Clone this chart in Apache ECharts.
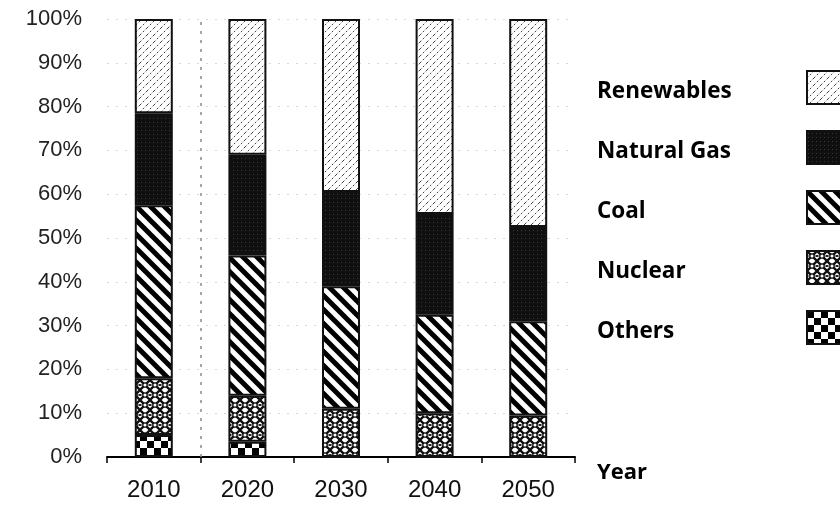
<!DOCTYPE html>
<html>
<head>
<meta charset="utf-8">
<script src="https://cdn.jsdelivr.net/npm/echarts@6/dist/echarts.min.js"></script>
<style>
  html, body { margin: 0; padding: 0; background: #fff; }
  #chart { width: 840px; height: 511px; }
</style>
</head>
<body>
<div id="chart"></div>
<script>
// Electricity generation mix by source, share of total (%)
const years = ['2010', '2020', '2030', '2040', '2050'];
const others = [5, 3.5, 0, 0, 0];
const nuclear = [13, 10.5, 11, 10, 9.5];
const coal = [39.5, 32, 28, 22.5, 21.5];
const naturalGas = [21, 23, 21.5, 23, 21.5];
const renewables = [21.5, 31, 39.5, 44.5, 47.5];
const yTicks = [0, 10, 20, 30, 40, 50, 60, 70, 80, 90, 100];
const legendOrder = ['Renewables', 'Natural Gas', 'Coal', 'Nuclear', 'Others'];
// dotted divider after the first (historical) year, in category units
const dividerAt = [1];

// Monochrome fill patterns, one per source
function tile(w, h, draw) {
  const c = document.createElement('canvas');
  c.width = w; c.height = h;
  const g = c.getContext('2d');
  g.fillStyle = '#fff';
  g.fillRect(0, 0, w, h);
  draw(g, w, h);
  return { image: c, repeat: 'repeat' };
}

const fillRenewables = tile(7, 7, (g, w, h) => {
  g.strokeStyle = '#444';
  g.lineWidth = 1;
  g.setLineDash([2, 2]);
  g.beginPath();
  g.moveTo(0, h); g.lineTo(w, 0);
  g.stroke();
});

const fillGas = tile(4, 4, (g) => {
  g.fillStyle = '#101010';
  g.fillRect(0, 0, 4, 4);
  g.fillStyle = '#383838';
  g.fillRect(1, 2, 1, 1);
});

const fillCoal = tile(14, 14, (g, w, h) => {
  g.strokeStyle = '#000';
  g.lineWidth = 5;
  g.beginPath();
  for (let k = -1; k <= 1; k++) {
    g.moveTo(k * w - 2, -2);
    g.lineTo(k * w + w + 2, h + 2);
  }
  g.stroke();
});

const fillNuclear = tile(10, 10, (g, w, h) => {
  g.strokeStyle = '#111';
  g.lineWidth = 2.3;
  g.beginPath();
  g.moveTo(0, 0); g.lineTo(w, h);
  g.moveTo(w, 0); g.lineTo(0, h);
  g.stroke();
  g.fillStyle = '#fff';
  g.beginPath();
  g.arc(w / 2, h / 2, 2.2, 0, Math.PI * 2);
  g.fill();
  g.lineWidth = 1.3;
  g.stroke();
  g.fillStyle = '#222';
  g.fillRect(0, h / 2 - 1, 1.5, 2);
  g.fillRect(w - 1.5, h / 2 - 1, 1.5, 2);
});

const fillOthers = tile(14, 14, (g) => {
  g.fillStyle = '#000';
  g.fillRect(0, 0, 7, 7);
  g.fillRect(7, 7, 7, 7);
});

const chart = echarts.init(document.getElementById('chart'), null, { renderer: 'canvas' });

function barSeries(name, data, fill) {
  return {
    name: name,
    type: 'bar',
    stack: 'mix',
    barWidth: 38,
    data: data,
    itemStyle: { color: fill, borderColor: '#111', borderWidth: 2 },
    emphasis: { disabled: true }
  };
}

chart.setOption({
  animation: false,
  backgroundColor: '#fff',
  grid: { left: 107, right: 265, top: 19, bottom: 54 },
  legend: {
    orient: 'vertical',
    left: 597,
    top: 70,
    align: 'right',
    itemWidth: 34,
    itemHeight: 33,
    itemGap: 25,
    padding: 0,
    selectedMode: false,
    data: legendOrder,
    icon: 'rect',
    formatter: (name) => '{t|' + name + '}',
    textStyle: {
      rich: {
        t: {
          width: 205,
          align: 'left',
          fontFamily: 'Open Sans',
          fontWeight: 'bold',
          fontSize: 22.5,
          color: '#000',
          padding: [8, 0, 0, 0]
        }
      }
    }
  },
  xAxis: [{
    type: 'category',
    data: years,
    name: 'Year',
    nameLocation: 'end',
    nameGap: 22,
    nameTextStyle: {
      fontFamily: 'Open Sans', fontWeight: 'bold', fontSize: 22, color: '#000',
      verticalAlign: 'top', padding: [5, 0, 0, 0]
    },
    axisLine: { lineStyle: { color: '#000', width: 2 } },
    axisTick: { show: true, length: 6, lineStyle: { color: '#000', width: 1.5 } },
    axisLabel: {
      margin: 21,
      fontFamily: 'Liberation Sans', fontSize: 24, color: '#111'
    },
    splitLine: { show: false }
  }, {
    // helper scale spanning the category band, used for the divider
    type: 'value',
    min: 0,
    max: years.length,
    show: false
  }],
  yAxis: {
    type: 'value',
    min: yTicks[0],
    max: yTicks[yTicks.length - 1],
    interval: 10,
    axisLine: { show: false },
    axisTick: { show: false },
    axisLabel: {
      margin: 25,
      formatter: '{value}%',
      fontFamily: 'Liberation Sans', fontSize: 22, color: '#222'
    },
    splitLine: { show: true, lineStyle: { color: '#d8d8d8', width: 1, type: [2, 7] } }
  },
  series: [
    barSeries('Others', others, fillOthers),
    barSeries('Nuclear', nuclear, fillNuclear),
    barSeries('Coal', coal, fillCoal),
    barSeries('Natural Gas', naturalGas, fillGas),
    barSeries('Renewables', renewables, fillRenewables),
    {
      name: 'divider',
      type: 'line',
      xAxisIndex: 1,
      data: [],
      silent: true,
      markLine: {
        silent: true,
        symbol: 'none',
        label: { show: false },
        lineStyle: { color: '#8a8a8a', width: 1.5, type: [3, 6] },
        data: dividerAt.map((v) => ({ xAxis: v }))
      }
    }
  ]
});
</script>
</body>
</html>
